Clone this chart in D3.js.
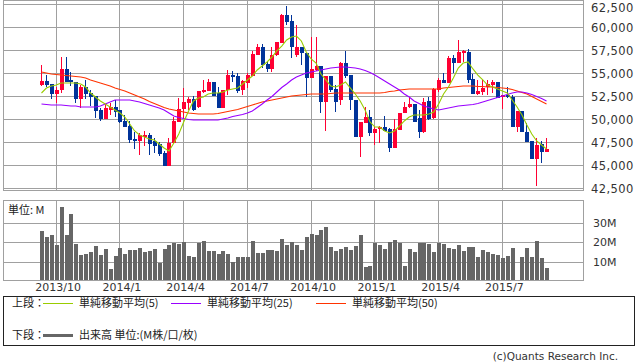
<!DOCTYPE html>
<html>
<head>
<meta charset="utf-8">
<script src="https://cdn.jsdelivr.net/npm/d3@7"></script>
<style>
  body { margin: 0; background: #fff; }
  text { font-family: "DejaVu Sans", sans-serif; fill: #333; }
  .jp { font-family: "Noto Sans CJK JP", sans-serif; fill: #222; }
</style>
</head>
<body>
<svg width="638" height="362"></svg>
<script>
//Weekly candles, first week starting Monday 2013-09-09 (104 weeks)
let firstWeek = new Date(2013, 8, 9);
let weekCount = 104;
//Quarter labels on the time axis
let tickLabels = ["2013/10", "2014/1", "2014/4", "2014/7", "2014/10", "2015/1", "2015/4", "2015/7"];
let priceTicks = [42500, 45000, 47500, 50000, 52500, 55000, 57500, 60000, 62500];
let volumeTicks = [10, 20, 30]; //millions

let open = [53700,54110,53780,52690,53130,55420,54220,54000,52150,53450,
  52800,52470,50950,49970,50950,51270,50950,49750,49200,47790,
  47570,48000,48220,47570,47240,46260,44840,47350,49640,51060,
  51710,52150,51270,52910,53020,54000,52800,51160,53130,54760,
  54650,53130,53890,54650,56940,57810,55960,55420,56940,58250,
  61300,60650,56940,57810,57160,54430,55310,55740,51820,54650,
  53240,52040,56070,54760,52040,48000,49530,50180,48440,48880,
  49090,48880,46800,48770,50620,51270,51600,50070,48550,51930,
  50070,53130,54220,53890,56610,56070,57160,57270,54330,52690,
  52910,53450,53670,54000,52360,52580,52360,49090,50840,48550,
  47570,45610,47240,46370];
let high = [55850,54760,53780,53450,56720,56720,55090,54000,53670,54220,
  53130,52470,51160,51600,51710,52040,50950,50400,49750,48550,
  48440,48660,48440,47890,47460,46480,47890,50180,52250,53340,
  52360,52470,53020,54220,54330,54000,53450,53130,55310,55200,
  54980,54220,54980,57380,58140,58140,56180,57810,58360,61410,
  62280,61300,60210,57810,57160,58900,58900,55740,54650,54650,
  53670,56180,57380,54760,52040,49640,51270,50950,49090,49200,
  50290,48980,49970,50620,51820,52360,51600,50950,52250,52360,
  53340,54430,54980,56830,56940,58580,57490,57600,54870,54220,
  54220,54220,54220,54000,52580,53450,52580,50840,50840,49530,
  47570,47890,47570,47890];
let low = [53560,53450,52150,51710,52800,54000,53560,51710,51160,52150,
  51380,50070,49750,49970,50400,50180,49530,49090,47350,46700,
  46040,47020,46040,46260,45930,44840,44840,47350,49640,50070,
  50950,50840,51160,52800,53020,52470,51160,51160,52580,54000,
  52800,52580,53340,54650,56940,55520,55090,55090,56830,58250,
  60210,56610,56720,55850,52360,54430,55200,50620,48660,52910,
  50730,51490,54430,50950,48000,45820,49530,48110,47130,47350,
  48660,46370,46800,48770,50620,51160,49640,47890,48440,49860,
  49970,52910,53890,53890,54980,56070,56180,53890,52690,52580,
  52580,52580,52800,52250,51060,52250,49090,48550,48550,47460,
  45610,42660,45170,46370];
let close = [54140,53670,52690,53130,55420,54000,54000,52150,53450,52690,
  52360,50840,49970,51160,51270,50730,49640,49090,47680,47570,
  48220,48220,47240,47020,46150,44840,47350,49750,51060,51820,
  52150,50950,53020,53130,54000,52470,51160,53130,54760,54540,
  53020,54110,54760,57050,57810,55850,55420,56940,58360,61300,
  60540,57810,57810,57160,54430,55420,55740,51820,54650,53130,
  51820,56070,54650,52040,48000,49640,50180,48440,48880,49090,
  48660,46800,48880,50620,51270,51600,49640,48550,51820,49970,
  53240,54220,53890,56610,56070,57270,57380,54220,52690,53020,
  53340,53780,54000,52250,52580,52360,49090,50840,48550,47460,
  45610,47130,46370,46700];
//Volume in millions
let volume = [25.9,22.8,23.9,18.7,38.4,23.9,34.8,19.2,13.5,14.0,
  15.0,18.2,13.5,16.6,6.2,13.0,17.1,14.0,16.1,16.1,
  17.1,15.0,15.6,16.6,9.3,16.6,18.7,19.7,19.2,20.2,
  13.0,12.4,19.7,20.7,15.6,15.6,14.0,15.6,14.0,9.9,
  12.4,12.4,12.4,20.7,14.5,14.5,16.1,16.1,15.6,21.8,
  18.7,20.2,18.7,16.1,22.8,24.4,23.9,26.5,28.0,17.6,
  15.6,16.6,17.6,16.1,18.2,23.9,7.3,7.8,19.7,18.7,
  16.6,20.2,21.3,19.7,7.8,16.6,15.0,19.7,19.7,19.2,
  15.0,19.7,19.2,17.1,16.6,18.7,15.6,17.6,17.6,12.4,
  16.1,15.0,14.0,13.5,11.9,13.0,17.1,0,12.4,17.1,
  12.4,20.7,11.9,6.7];
//Moving averages as read on the chart
let ma5 = [52800,53340,53560,53670,53890,53890,53890,53890,53780,53450,
  52800,52360,51930,51600,51270,50950,50620,50180,49420,48660,
  48220,48000,47790,47680,47240,46800,46480,47350,48330,49640,
  50840,51930,52250,52360,52690,52800,52800,52910,53130,53240,
  53340,53780,54220,54650,55310,55740,56180,56720,57380,57920,
  58580,58900,59010,58470,57270,56510,56070,54870,54220,53560,
  53450,53670,54000,53340,52690,51930,50950,49640,49090,49090,
  48660,48440,48660,49200,49750,50180,50400,50400,50400,50510,
  50730,51600,52690,53450,54430,55520,56070,56180,55420,54760,
  54220,53670,53450,53240,53020,52800,52040,51270,50400,49310,
  48330,47570,47130,46700];
let ma25 = [51600,51550,51490,51490,51490,51440,51380,51380,51270,51270,
  51270,51270,51380,51600,51820,52040,52040,52040,52040,51930,
  51820,51650,51490,51330,51160,50950,50620,50290,50130,50020,
  49910,49860,49860,49860,49860,49860,49860,49970,50070,50240,
  50350,50460,50620,50840,51220,51600,52040,52420,52910,53400,
  53780,54220,54540,54760,54980,55090,55200,55310,55420,55520,
  55580,55630,55630,55580,55520,55420,55250,55030,54760,54430,
  54110,53780,53450,53130,52690,52360,51930,51650,51380,51220,
  51060,50950,51060,51160,51270,51380,51440,51490,51550,51650,
  51820,51980,52150,52310,52470,52640,52800,52910,52910,52800,
  52640,52420,52200,51930];
let ma50 = [55090,54980,54870,54820,54760,54710,54650,54600,54540,54430,
  54220,54050,53890,53730,53560,53340,53180,53020,52800,52580,
  52360,52150,51870,51650,51440,51220,51060,50950,50840,50730,
  50620,50560,50510,50510,50510,50510,50560,50670,50780,50890,
  51000,51160,51330,51490,51650,51820,51930,52040,52150,52250,
  52360,52470,52530,52580,52640,52690,52690,52690,52690,52740,
  52800,52800,52800,52800,52800,52800,52800,52800,52800,52800,
  52850,52960,53020,53130,53180,53240,53240,53240,53240,53240,
  53240,53240,53340,53400,53450,53510,53560,53560,53560,53510,
  53510,53450,53450,53400,53340,53290,53180,53020,52850,52690,
  52420,52150,51870,51600];

let upColor = "#ff0033", downColor = "#003399";
let gridColor = "#a0a0a0";

let svg = d3.select("svg");

//Week dates used as categories
let weeks = d3.timeMonday.range(firstWeek, d3.timeWeek.offset(firstWeek, weekCount));
let parseMonth = d3.timeParse("%Y/%m");

let x = d3.scalePoint().domain(d3.range(weeks.length)).range([41, 546]);
let y = d3.scaleLinear().domain([42500, 62500]).range([187.5, 4]);
let yVol = d3.scaleLinear().domain([0, 41.5]).range([281, 201]);

//Index of the week holding the first day of each labelled month
let tickIdx = tickLabels.map(function(s){
  let d = d3.timeMonday.floor(parseMonth(s));
  return weeks.findIndex(w => +w == +d);
});

let panel = {left: 3, right: 583};

//---- Upper panel (price) ----
let upper = svg.append("g");

upper.append("g")
  .selectAll("line")
  .data(priceTicks)
  .enter().append("line")
  .attr("x1", panel.left).attr("x2", panel.right)
  .attr("y1", d => Math.round(y(d)) + 0.5).attr("y2", d => Math.round(y(d)) + 0.5)
  .attr("stroke", gridColor);

upper.append("g")
  .selectAll("line")
  .data(tickIdx)
  .enter().append("line")
  .attr("x1", d => Math.round(x(d)) + 0.5).attr("x2", d => Math.round(x(d)) + 0.5)
  .attr("y1", 1).attr("y2", 190)
  .attr("stroke", gridColor);

upper.append("rect")
  .attr("x", panel.left + 0.5).attr("y", 0.5)
  .attr("width", panel.right - panel.left).attr("height", 190)
  .attr("fill", "none").attr("stroke", gridColor);

//Right price axis
let yAxis = d3.axisRight(y).tickValues(priceTicks).tickSize(0).tickPadding(0).tickFormat(d3.format(","));
upper.append("g")
  .attr("transform", "translate(591,1)")
  .call(yAxis)
  .call(g => g.select(".domain").remove())
  .selectAll("text")
  .attr("font-size", 11.5)
  .attr("font-family", "DejaVu Sans")
  .attr("letter-spacing", 0.4)
  .attr("fill", "#333")
  //keep the top label inside the picture
  .attr("y", d => d == 62500 ? 2.5 : 0);

//Candles
let candles = upper.append("g")
  .selectAll("g")
  .data(d3.range(weeks.length))
  .enter().append("g")
  .attr("shape-rendering", "crispEdges");

candles.append("line")
  .attr("x1", i => Math.round(x(i)) + 0.5).attr("x2", i => Math.round(x(i)) + 0.5)
  .attr("y1", i => y(high[i])).attr("y2", i => y(low[i]))
  .attr("stroke", i => close[i] >= open[i] ? upColor : downColor);

candles.append("rect")
  .attr("x", i => Math.round(x(i)) - 1.5)
  .attr("width", 4)
  .attr("y", i => y(Math.max(open[i], close[i])))
  .attr("height", i => Math.max(1.5, Math.abs(y(open[i]) - y(close[i]))))
  .attr("fill", i => close[i] >= open[i] ? upColor : downColor);

//Moving averages
let maLine = d3.line().x((d, i) => x(i) + 0.5).y(d => y(d));
let maSeries = [
  {values: ma50, color: "#ff3300"},
  {values: ma25, color: "#9900ff"},
  {values: ma5, color: "#99cc00"}
];
upper.append("g")
  .selectAll("path")
  .data(maSeries)
  .enter().append("path")
  .attr("d", d => maLine(d.values))
  .attr("fill", "none")
  .attr("stroke", d => d.color)
  .attr("stroke-width", 1.1);

//---- Lower panel (volume) ----
let lower = svg.append("g");

lower.append("g")
  .selectAll("line")
  .data(volumeTicks)
  .enter().append("line")
  .attr("x1", panel.left).attr("x2", panel.right)
  .attr("y1", d => Math.round(yVol(d)) + 0.5).attr("y2", d => Math.round(yVol(d)) + 0.5)
  .attr("stroke", gridColor);

lower.append("g")
  .selectAll("line")
  .data(tickIdx)
  .enter().append("line")
  .attr("x1", d => Math.round(x(d)) + 0.5).attr("x2", d => Math.round(x(d)) + 0.5)
  .attr("y1", 201).attr("y2", 281)
  .attr("stroke", gridColor);

lower.append("g")
  .attr("shape-rendering", "crispEdges")
  .selectAll("rect")
  .data(volume)
  .enter().append("rect")
  .attr("x", (d, i) => Math.round(x(i)) - 1.5)
  .attr("width", 4)
  .attr("y", d => yVol(d))
  .attr("height", d => yVol(0) - yVol(d))
  .attr("fill", "#666");

lower.append("rect")
  .attr("x", panel.left + 0.5).attr("y", 200.5)
  .attr("width", panel.right - panel.left).attr("height", 80)
  .attr("fill", "none").attr("stroke", gridColor);

lower.append("text")
  .attr("class", "jp")
  .attr("x", 8).attr("y", 214)
  .attr("font-size", 11)
  .text("単位: M");

let volAxis = d3.axisRight(yVol).tickValues(volumeTicks).tickSize(0).tickPadding(0).tickFormat(d => d + "M");
lower.append("g")
  .attr("transform", "translate(593,0)")
  .call(volAxis)
  .call(g => g.select(".domain").remove())
  .selectAll("text")
  .attr("font-size", 11)
  .attr("font-family", "DejaVu Sans")
  .attr("fill", "#333");

//Time labels under the volume panel
let xAxis = d3.axisBottom(x).tickValues(tickIdx).tickSize(0).tickPadding(0)
  .tickFormat((d, i) => tickLabels[i]);
lower.append("g")
  .attr("transform", "translate(2,283)")
  .call(xAxis)
  .call(g => g.select(".domain").remove())
  .selectAll("text")
  .attr("font-size", 11)
  .attr("font-family", "DejaVu Sans")
  .attr("fill", "#333");

//---- Legend ----
let legend = svg.append("g");
legend.append("rect")
  .attr("x", 3.5).attr("y", 296.5)
  .attr("width", 631).attr("height", 49)
  .attr("fill", "none").attr("stroke", "#222");

legend.append("text").attr("class", "jp").attr("x", 12).attr("y", 307).attr("font-size", 11).text("上段：");
let legendItems = [
  {x: 43, color: "#99cc00", label: "単純移動平均(5)"},
  {x: 171, color: "#9900ff", label: "単純移動平均(25)"},
  {x: 316, color: "#ff3300", label: "単純移動平均(50)"}
];
legendItems.forEach(function(d){
  legend.append("line")
    .attr("x1", d.x).attr("x2", d.x + 30)
    .attr("y1", 303.5).attr("y2", 303.5)
    .attr("stroke", d.color);
  legend.append("text").attr("class", "jp")
    .attr("x", d.x + 36).attr("y", 307)
    .attr("font-size", 11)
    .text(d.label);
});

legend.append("text").attr("class", "jp").attr("x", 12).attr("y", 339).attr("font-size", 11).text("下段：");
legend.append("rect")
  .attr("x", 43).attr("y", 334).attr("width", 30).attr("height", 3)
  .attr("fill", "#666");
legend.append("text").attr("class", "jp")
  .attr("x", 79).attr("y", 339)
  .attr("font-size", 11)
  .text("出来高 単位:(M株/口/枚)");

svg.append("text")
  .attr("x", 618).attr("y", 360)
  .attr("text-anchor", "end")
  .attr("font-size", 10.5)
  .attr("font-family", "Liberation Sans")
  .attr("fill", "#444")
  .text("(c)Quants Research Inc.");
</script>
</body>
</html>
